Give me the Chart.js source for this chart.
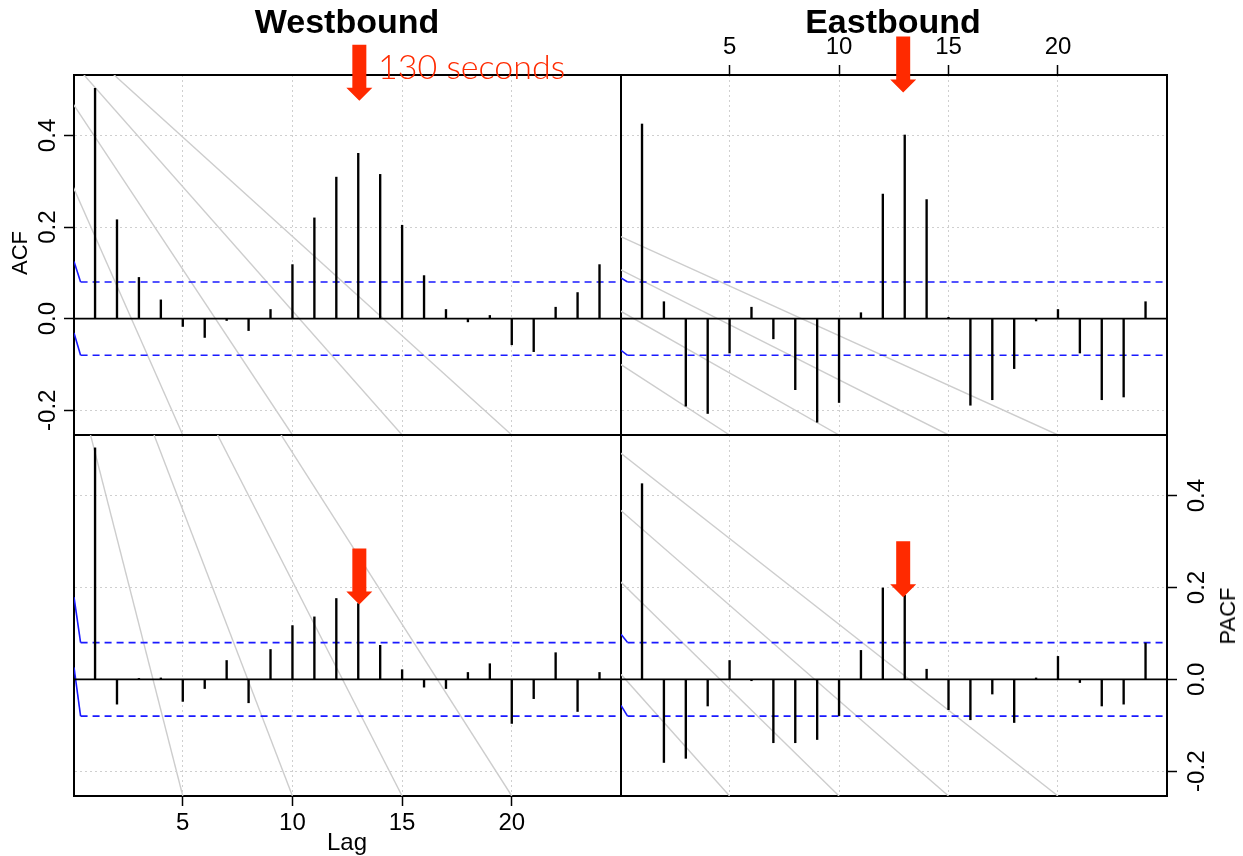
<!DOCTYPE html>
<html>
<head>
<meta charset="utf-8">
<script src="https://cdn.jsdelivr.net/npm/chart.js@4.4.1/dist/chart.umd.min.js"></script>
<style>
  body { margin: 0; background: #fff; }
  #wrap { position: relative; width: 1243px; height: 856px; overflow: hidden; font-family: "Liberation Sans", Arial, sans-serif; }
  canvas { position: absolute; left: 0; top: 0; }
  .t { position: absolute; white-space: nowrap; line-height: 1; color: #000; }
  .title { font-weight: bold; font-size: 34px; transform: translate(-50%, -50%); }
  .axt { font-size: 22px; }
  .rot { transform: translate(-50%, -50%) rotate(-90deg); }
  .note { font-family: Lato, "Open Sans", sans-serif; font-weight: 300; font-size: 34px; color: #ff2a00; }
</style>
</head>
<body>
<div id="wrap">
  <canvas id="tl" width="1243" height="856"></canvas>
  <canvas id="tr" width="1243" height="856"></canvas>
  <canvas id="bl" width="1243" height="856"></canvas>
  <canvas id="br" width="1243" height="856"></canvas>
  <div class="t title" style="left:347px; top:21px;">Westbound</div>
  <div class="t title" style="left:893px; top:21px;">Eastbound</div>
  <div class="t note" style="left:378px; top:49px;">130 seconds</div>
  <div class="t axt" style="left:347px; top:830px; font-size:24px; transform:translateX(-50%);">Lag</div>
  <div class="t axt rot" style="left:20px; top:253px;">ACF</div>
  <div class="t axt rot" style="left:1228px; top:616px;">PACF</div>
</div>
<script>
// lags 1..24 and the four correlograms
const lags = [1, 2, 3, 4, 5, 6, 7, 8, 9, 10, 11, 12, 13, 14, 15, 16, 17, 18, 19, 20, 21, 22, 23, 24];
const westAcf = [0.503, 0.216, 0.090, 0.041, -0.017, -0.041, -0.004, -0.026, 0.020, 0.118, 0.220, 0.309,
  0.361, 0.315, 0.204, 0.094, 0.020, -0.007, 0.007, -0.057, -0.072, 0.025, 0.057, 0.118];
const eastAcf = [0.425, 0.037, -0.191, -0.207, -0.075, 0.025, -0.044, -0.155, -0.226, -0.183, 0.013, 0.272,
  0.401, 0.260, 0.003, -0.189, -0.177, -0.109, -0.005, 0.020, -0.075, -0.177, -0.171, 0.037];
const westPacf = [0.504, -0.054, 0.002, 0.003, -0.048, -0.020, 0.041, -0.051, 0.065, 0.117, 0.136, 0.176,
  0.165, 0.074, 0.021, -0.017, -0.020, 0.015, 0.034, -0.096, -0.042, 0.058, -0.070, 0.015];
const eastPacf = [0.426, -0.181, -0.172, -0.058, 0.041, -0.003, -0.138, -0.138, -0.131, -0.079, 0.063, 0.199,
  0.183, 0.022, -0.066, -0.088, -0.032, -0.094, 0.003, 0.050, -0.007, -0.058, -0.054, 0.079];

const lagTicks = [5, 10, 15, 20];
const valueTicks = [-0.2, 0.0, 0.2, 0.4];

// significance bounds, and where the solid blue start of each bound begins (tl, tr, bl, br)
const ciBound = 0.08;
const ciKneeLag = 0.34;
const ciStartUpper = [0.125, 0.089, 0.179, 0.098];
const ciStartLower = [-0.031, -0.069, 0.026, -0.057];

// grey guide rays: from a far point to each lag tick on the panel floor
const guideLags = [5, 10, 15, 20];
const guideFromLag = [-5, -30, -5, -30];
const guideFromVal = [0.83, 0.83, 1.615, 1.615];

// red arrows marking lag 13 (130 seconds)
const arrowLag = [13.05, 12.93, 13.05, 12.93];
const arrowTipVal = [0.476, 0.494, 0.163, 0.179];

const XMIN = 0.04, XMAX = 24.98, YMIN = -0.254, YMAX = 0.532;
const TICK = 10;
const LABEL_AXIS = 46; // tick marks + room for the lag labels
const FONT = '"Liberation Sans", Arial, sans-serif';
const GRID = '#cfcfcf';

const panels = [
  { id: 'tl', values: westAcf, area: [74, 75, 621, 435], xSide: null, ySide: 'left' },
  { id: 'tr', values: eastAcf, area: [621, 75, 1167, 435], xSide: 'top', ySide: null },
  { id: 'bl', values: westPacf, area: [74, 435, 621, 796], xSide: 'bottom', ySide: null },
  { id: 'br', values: eastPacf, area: [621, 435, 1167, 796], xSide: null, ySide: 'right' },
];

function lagAxis(pos, showTicks, drawGrid) {
  return {
    type: 'linear', position: pos, min: XMIN, max: XMAX, offset: false,
    afterBuildTicks: (s) => { s.ticks = lagTicks.map((v) => ({ value: v })); },
    afterFit: (s) => { s.height = showTicks ? LABEL_AXIS : 0; },
    grid: {
      display: drawGrid || showTicks, drawOnChartArea: drawGrid, drawTicks: showTicks,
      tickLength: TICK, color: GRID, lineWidth: 1, tickColor: '#000', tickWidth: 1.5, offset: false,
    },
    border: { display: true, color: '#000', width: 2, dash: [2, 3] },
    ticks: { display: showTicks, color: '#000', font: { family: FONT, size: 24 }, padding: 3, maxRotation: 0, autoSkip: false },
  };
}

function valueAxis(pos, showTicks, drawGrid) {
  return {
    type: 'linear', position: pos, min: YMIN, max: YMAX,
    afterBuildTicks: (s) => { s.ticks = valueTicks.map((v) => ({ value: v })); },
    afterFit: (s) => { s.width = showTicks ? TICK : 0; },
    grid: {
      display: drawGrid || showTicks, drawOnChartArea: drawGrid, drawTicks: showTicks,
      tickLength: TICK, color: GRID, lineWidth: 1, tickColor: '#000', tickWidth: 1.5,
    },
    border: { display: true, color: '#000', width: 2, dash: [2, 3] },
    ticks: { display: false },
  };
}

// rotated value labels and the red arrow
const panelDecor = {
  id: 'panelDecor',
  afterDraw(chart, args, opts) {
    const { ctx, chartArea } = chart;
    const xs = chart.scales.x, ys = chart.scales.y;
    if (opts.ySide) {
      ctx.save();
      ctx.font = '24px ' + FONT;
      ctx.fillStyle = '#000';
      ctx.textAlign = 'center';
      ctx.textBaseline = 'alphabetic';
      const bx = opts.ySide === 'left' ? chartArea.left - 19 : chartArea.right + 37;
      valueTicks.forEach((v) => {
        ctx.save();
        ctx.translate(bx, ys.getPixelForValue(v));
        ctx.rotate(-Math.PI / 2);
        ctx.fillText(v.toFixed(1), 0, 0);
        ctx.restore();
      });
      ctx.restore();
    }
    const ax = xs.getPixelForValue(opts.arrowLag);
    const tip = ys.getPixelForValue(opts.arrowTip);
    ctx.save();
    ctx.fillStyle = '#ff2a00';
    ctx.beginPath();
    ctx.moveTo(ax - 7, tip - 56);
    ctx.lineTo(ax + 7, tip - 56);
    ctx.lineTo(ax + 7, tip - 13);
    ctx.lineTo(ax + 13, tip - 13);
    ctx.lineTo(ax, tip);
    ctx.lineTo(ax - 13, tip - 13);
    ctx.lineTo(ax - 7, tip - 13);
    ctx.closePath();
    ctx.fill();
    ctx.restore();
  },
};

panels.forEach((p, i) => {
  const [left, top, right, bottom] = p.area;
  const datasets = [
    {
      type: 'bar', order: 0,
      data: lags.map((l, k) => ({ x: l, y: p.values[k] })),
      backgroundColor: '#000', borderWidth: 0, barThickness: 1.7,
    },
    {
      type: 'line', order: 1,
      data: [{ x: XMIN, y: 0 }, { x: XMAX, y: 0 }],
      borderColor: '#000', borderWidth: 1.6, pointRadius: 0,
    },
    {
      type: 'line', order: 2,
      data: [{ x: XMIN, y: ciStartUpper[i] }, { x: ciKneeLag, y: ciBound }, { x: XMAX, y: ciBound }],
      borderColor: '#1a1aff', borderWidth: 1.6, pointRadius: 0,
      segment: { borderDash: (c) => (c.p0DataIndex === 0 ? [] : [7, 5]) },
    },
    {
      type: 'line', order: 2,
      data: [{ x: XMIN, y: ciStartLower[i] }, { x: ciKneeLag, y: -ciBound }, { x: XMAX, y: -ciBound }],
      borderColor: '#1a1aff', borderWidth: 1.6, pointRadius: 0,
      segment: { borderDash: (c) => (c.p0DataIndex === 0 ? [] : [7, 5]) },
    },
  ];
  guideLags.forEach((g) => {
    datasets.push({
      type: 'line', order: 3,
      data: [{ x: guideFromLag[i], y: guideFromVal[i] }, { x: g, y: YMIN }],
      borderColor: '#cdcdcd', borderWidth: 1.4, pointRadius: 0,
    });
  });

  new Chart(document.getElementById(p.id), {
    type: 'bar',
    data: { datasets },
    options: {
      responsive: false,
      animation: false,
      devicePixelRatio: 1,
      events: [],
      layout: {
        padding: {
          left: left - (p.ySide === 'left' ? TICK : 0),
          top: top - (p.xSide === 'top' ? LABEL_AXIS : 0),
          right: 1243 - right - (p.ySide === 'right' ? TICK : 0),
          bottom: 856 - bottom - (p.xSide === 'bottom' ? LABEL_AXIS : 0),
        },
      },
      scales: {
        x: lagAxis('bottom', p.xSide === 'bottom', true),
        x2: lagAxis('top', p.xSide === 'top', false),
        y: valueAxis('left', p.ySide === 'left', true),
        y2: valueAxis('right', p.ySide === 'right', false),
      },
      plugins: {
        legend: { display: false },
        tooltip: { enabled: false },
        panelDecor: { ySide: p.ySide, arrowLag: arrowLag[i], arrowTip: arrowTipVal[i] },
      },
    },
    plugins: [panelDecor],
  });
});
</script>
</body>
</html>
